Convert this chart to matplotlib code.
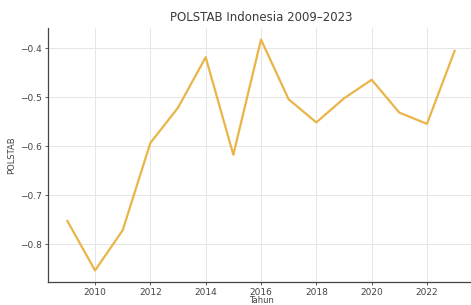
import numpy as np
import matplotlib
matplotlib.use('Agg')
import matplotlib.pyplot as plt

# POLSTAB (political stability) Indonesia
tahun = [2009, 2010, 2011, 2012, 2013, 2014, 2015, 2016,
         2017, 2018, 2019, 2020, 2021, 2022, 2023]
polstab = [-0.752, -0.853, -0.771, -0.593, -0.521, -0.418, -0.617, -0.382,
           -0.504, -0.551, -0.502, -0.464, -0.531, -0.554, -0.405]
xticks = [2010, 2012, 2014, 2016, 2018, 2020, 2022]
yticks = [-0.8, -0.7, -0.6, -0.5, -0.4]

fig = plt.figure(figsize=(4.71, 3.05), dpi=100)
ax = fig.add_axes([48/471, 23/305, 426/471, 254/305])

ax.plot(tahun, polstab, color='#E9B549', linewidth=1.6)

ax.set_xticks(xticks)
ax.set_yticks(yticks)
ax.tick_params(labelsize=6.5, colors='#444444', length=2, width=0.6, pad=2.5)
ax.grid(True, color='#e6e6e6', linewidth=0.7)
ax.set_axisbelow(True)
for s in ['top', 'right']:
    ax.spines[s].set_visible(False)
for s in ['left', 'bottom']:
    ax.spines[s].set_color('#444444')
    ax.spines[s].set_linewidth(0.9)

ax.set_title('POLSTAB Indonesia 2009\u20132023', fontsize=8.5, color='#3a3a3a', pad=5)
ax.set_xlabel('Tahun', fontsize=6, color='#444444', labelpad=-1)
ax.set_ylabel('POLSTAB', fontsize=6, color='#444444', labelpad=3)

fig.savefig('out.png', dpi=100)
